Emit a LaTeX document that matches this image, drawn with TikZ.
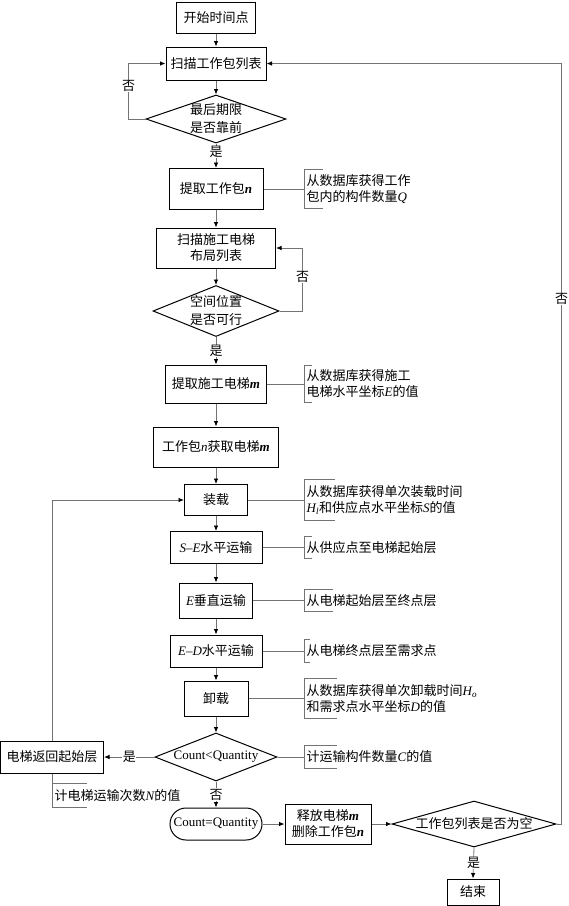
\documentclass[tikz,border=0pt]{standalone}
\usepackage{fontspec}
\setmainfont{Liberation Serif}
\newfontfamily\cjk{Noto Sans CJK SC}
\newfontfamily\tnr{Liberation Serif}
\usepackage{tikz}
\usetikzlibrary{shapes.geometric, arrows.meta, positioning, calc}
\definecolor{linegray}{RGB}{115,115,115}
\newcommand{\vi}[1]{{\tnr\itshape #1}}
\newcommand{\vb}[1]{{\tnr\bfseries\itshape #1}}

\begin{document}
\begin{tikzpicture}[
    x=1pt, y=-1pt,
    font=\cjk\fontsize{13}{16}\selectfont,
    box/.style={draw, line width=1pt, align=center, inner sep=1pt},
    cond/.style={draw, diamond, aspect=3, inner sep=-3pt, line width=1pt, align=center, font=\cjk\fontsize{13}{18}\selectfont},
    arrow/.style={-{Latex[length=5.5pt, width=4.5pt, color=black]}, draw=linegray, line width=0.8pt},
    link/.style={draw=linegray, line width=0.8pt},
    note/.style={anchor=west, align=left, inner xsep=2.5pt, inner ysep=0pt},
    tag/.style={fill=white, inner sep=0.5pt}
]
    \useasboundingbox (0,0) rectangle (569,906);

    % main column
    \node[box, minimum width=79pt, minimum height=31pt] (start) at (216,18) {开始时间点};
    \node[box, minimum width=100pt, minimum height=33pt] (scanwp) at (216,63.5) {扫描工作包列表};
    \node[cond, minimum width=140pt, minimum height=48pt] (dl) at (216,119) {最后期限\\是否靠前};
    \node[box, minimum width=94pt, minimum height=41pt] (getwp) at (216,189) {提取工作包\vb{n}};
    \node[box, minimum width=119pt, minimum height=40pt] (scanel) at (216,248) {扫描施工电梯\\布局列表};
    \node[cond, minimum width=126pt, minimum height=51pt] (sp) at (216,311) {空间位置\\是否可行};
    \node[box, minimum width=101pt, minimum height=38pt] (getel) at (216,384) {提取施工电梯\vb{m}};
    \node[box, minimum width=125pt, minimum height=40pt] (assign) at (216,447) {工作包\vi{n}获取电梯\vb{m}};
    \node[box, minimum width=63pt, minimum height=31pt] (load) at (216,500) {装载};
    \node[box, minimum width=92pt, minimum height=32pt] (se) at (216,547.5) {\vi{S}{\tnr –}\vi{E}水平运输};
    \node[box, minimum width=73pt, minimum height=35pt] (vert) at (216,600.5) {\vi{E}垂直运输};
    \node[box, minimum width=92pt, minimum height=32pt] (ed) at (216,651) {\vi{E}{\tnr –}\vi{D}水平运输};
    \node[box, minimum width=64pt, minimum height=35pt] (unload) at (216,698.5) {卸载};
    \node[cond, minimum width=122pt, minimum height=48pt] (cnt) at (216,757) {\tnr Count<Quantity};
    \node[box, minimum width=103pt, minimum height=32pt] (back) at (52,757) {电梯返回起始层};
    \node[box, rounded corners=16pt, inner xsep=0pt, minimum width=92pt, minimum height=32pt] (eq) at (216,824) {\tnr Count=Quantity};
    \node[box, minimum width=86pt, minimum height=40pt] (rel) at (328,824) {释放电梯\vb{m}\\删除工作包\vb{n}};
    \node[cond, minimum width=164pt, minimum height=46pt] (empty) at (474,824) {工作包列表是否为空};
    \node[box, minimum width=52pt, minimum height=26pt] (finish) at (473,892) {结束};

    % notes
    \node[note, minimum height=38pt] (qnote) at (304,189) {从数据库获得工作\\包内的构件数量\vi{Q}};
    \node[note, minimum height=37pt] (enote) at (304,384) {从数据库获得施工\\电梯水平坐标\vi{E}的值};
    \node[note, minimum height=40pt] (lnote) at (304,500) {从数据库获得单次装载时间\\\vi{H}\textsubscript{\vi{l}}和供应点水平坐标\vi{S}的值};
    \node[note, minimum height=21pt] (senote) at (304,547.5) {从供应点至电梯起始层};
    \node[note, minimum height=22pt] (vnote) at (304,600.5) {从电梯起始层至终点层};
    \node[note, minimum height=22pt] (ednote) at (304,651) {从电梯终点层至需求点};
    \node[note, minimum height=40pt] (unote) at (304,698.5) {从数据库获得单次卸载时间\vi{H}\textsubscript{\vi{o}}\\和需求点水平坐标\vi{D}的值};
    \node[note, minimum height=22pt] (cnote) at (304,757) {计运输构件数量\vi{C}的值};
    \node[note, minimum height=23pt] (nnote) at (52,795.5) {计电梯运输次数\vi{N}的值};

    % flow
    \draw[arrow] (start) -- (scanwp);
    \draw[arrow] (scanwp) -- (dl);
    \draw[arrow] (dl.south) -- node[tag, pos=0.35] {是} (getwp.north);
    \draw[arrow] (dl.west) -- ++(-17,0) |- node[tag, pos=0.3] {否} (scanwp.west);
    \draw[arrow] (getwp) -- (scanel);
    \draw[arrow] (scanel) -- (sp);
    \draw[arrow] (sp.east) -- ++(23,0) |- node[tag, pos=0.27] {否} (scanel.east);
    \draw[arrow] (sp.south) -- node[tag] {是} (getel.north);
    \draw[arrow] (getel) -- (assign);
    \draw[arrow] (assign) -- (load);
    \draw[arrow] (load) -- (se);
    \draw[arrow] (se) -- (vert);
    \draw[arrow] (vert) -- (ed);
    \draw[arrow] (ed) -- (unload);
    \draw[arrow] (unload.south) -- (cnt.north);
    \draw[arrow] (cnt.west) -- node[tag] {是} (back.east);
    \draw[arrow] (back.north) |- (load.west);
    \draw[arrow] (cnt.south) -- node[tag] {否} (eq.north);
    \draw[arrow] (eq) -- (rel);
    \draw[arrow] (rel) -- (empty);
    \draw[arrow] (empty.south) -- node[tag] {是} (finish.north);
    \draw[arrow] (empty.east) -- ++(5,0) |- node[tag, pos=0.345] {否} (scanwp.east);

    % brackets
    \draw[link] (getwp.east) -- (qnote.west);
    \draw[link] ([xshift=19pt]qnote.north west) -- (qnote.north west) -- (qnote.south west) -- ([xshift=19pt]qnote.south west);
    \draw[link] (getel.east) -- (enote.west);
    \draw[link] ([xshift=8pt]enote.north west) -- (enote.north west) -- (enote.south west) -- ([xshift=8pt]enote.south west);
    \draw[link] (load.east) -- (lnote.west);
    \draw[link] ([xshift=31pt]lnote.north west) -- (lnote.north west) -- (lnote.south west) -- ([xshift=31pt]lnote.south west);
    \draw[link] (se.east) -- (senote.west);
    \draw[link] ([xshift=8pt]senote.north west) -- (senote.north west) -- (senote.south west) -- ([xshift=8pt]senote.south west);
    \draw[link] (vert.east) -- (vnote.west);
    \draw[link] ([xshift=29pt]vnote.north west) -- (vnote.north west) -- (vnote.south west) -- ([xshift=29pt]vnote.south west);
    \draw[link] (ed.east) -- (ednote.west);
    \draw[link] ([xshift=6pt]ednote.north west) -- (ednote.north west) -- (ednote.south west) -- ([xshift=6pt]ednote.south west);
    \draw[link] (unload.east) -- (unote.west);
    \draw[link] ([xshift=33pt]unote.north west) -- (unote.north west) -- (unote.south west) -- ([xshift=33pt]unote.south west);
    \draw[link] (cnt.east) -- (cnote.west);
    \draw[link] ([xshift=33pt]cnote.north west) -- (cnote.north west) -- (cnote.south west) -- ([xshift=33pt]cnote.south west);
    \draw[link] (back.south) -- (nnote.north west);
    \draw[link] ([xshift=35pt]nnote.north west) -- (nnote.north west) -- (nnote.south west) -- ([xshift=35pt]nnote.south west);
\end{tikzpicture}
\end{document}
